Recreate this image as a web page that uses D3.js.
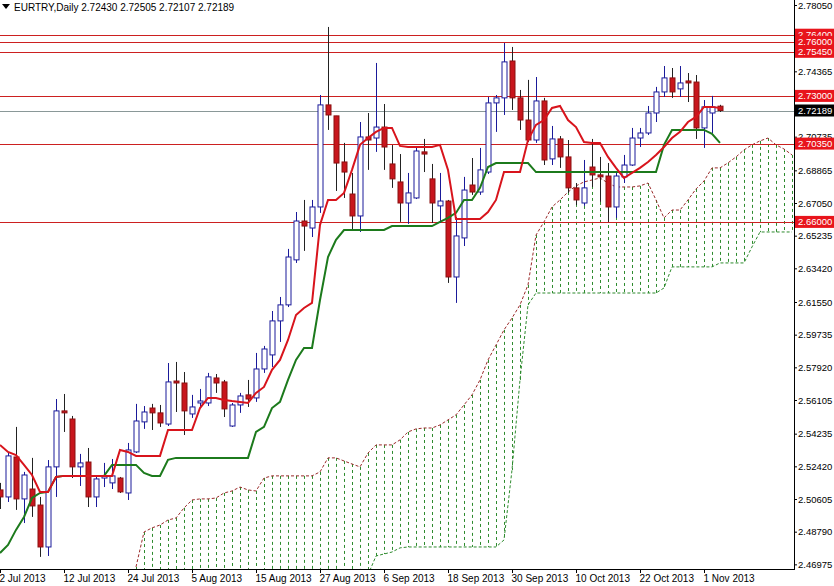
<!DOCTYPE html>
<html>
<head>
<meta charset="utf-8">
<script src="https://cdn.jsdelivr.net/npm/d3@7"></script>
<style>
  body { margin: 0; background: #fff; }
  svg { display: block; font-family: "Liberation Sans", Arial, sans-serif; }
</style>
</head>
<body>
<svg id="chart" width="834" height="586"></svg>
<script>
// EURTRY daily candles, 2 Jul 2013 .. 6 Nov 2013 (bar index 0..90)
const OPEN = [2.5111,2.5072,2.5294,2.5061,2.5116,2.5027,2.4794,2.5239,2.5550,2.5505,2.5239,2.5266,2.5072,2.5177,2.5150,2.5177,2.5094,2.5322,2.5489,2.5566,2.5539,2.5477,2.5716,2.5705,2.5533,2.5594,2.5594,2.5733,2.5711,2.5466,2.5583,2.5639,2.5622,2.5783,2.5861,2.6050,2.6139,2.6389,2.6605,2.6566,2.6683,2.7250,2.7189,2.6933,2.6755,2.6633,2.7072,2.7066,2.7127,2.6922,2.6822,2.6705,2.6733,2.6989,2.6839,2.6689,2.6716,2.6294,2.6511,2.6805,2.6766,2.6877,2.7261,2.7289,2.7494,2.7289,2.7166,2.7055,2.7272,2.6950,2.7061,2.6961,2.6789,2.6705,2.6905,2.6861,2.6855,2.6683,2.6850,2.6916,2.7066,2.7094,2.7205,2.7322,2.7400,2.7339,2.7383,2.7377,2.7122,2.7205,2.72430];
const HIGH = [2.5150,2.5316,2.5461,2.5211,2.5289,2.5072,2.5277,2.5616,2.5644,2.5522,2.5311,2.5344,2.5189,2.5261,2.5283,2.5183,2.5372,2.5589,2.5577,2.5589,2.5583,2.5816,2.5822,2.5766,2.5639,2.5672,2.5761,2.5755,2.5722,2.5594,2.5650,2.5722,2.5872,2.5911,2.6105,2.6183,2.6450,2.6655,2.6722,2.6722,2.7305,2.7683,2.7189,2.7039,2.6872,2.7155,2.7205,2.7483,2.7255,2.7027,2.6977,2.6872,2.7011,2.7061,2.6922,2.6872,2.6722,2.6627,2.6850,2.6955,2.7011,2.7294,2.7305,2.7594,2.7572,2.7333,2.7389,2.7405,2.7289,2.7133,2.7077,2.7055,2.6816,2.6944,2.7061,2.6961,2.6927,2.6872,2.6972,2.7122,2.7122,2.7244,2.7350,2.7466,2.7455,2.7466,2.7427,2.7416,2.7277,2.7300,2.72505];
const LOW = [2.5005,2.5044,2.5000,2.4927,2.4961,2.4739,2.4744,2.5072,2.5433,2.5177,2.5133,2.5016,2.5016,2.5127,2.5116,2.5094,2.5055,2.5316,2.5450,2.5444,2.5461,2.5466,2.5544,2.5416,2.5511,2.5572,2.5577,2.5650,2.5516,2.5461,2.5539,2.5572,2.5600,2.5761,2.5794,2.5933,2.6127,2.6372,2.6439,2.6516,2.6650,2.7111,2.6772,2.6733,2.6555,2.6544,2.6889,2.6989,2.6889,2.6789,2.6600,2.6589,2.6727,2.6877,2.6594,2.6594,2.6261,2.6150,2.6466,2.6750,2.6750,2.6866,2.7100,2.7194,2.7222,2.7111,2.7044,2.7039,2.6916,2.6916,2.6900,2.6761,2.6694,2.6689,2.6794,2.6711,2.6600,2.6622,2.6816,2.6911,2.7016,2.7083,2.7155,2.7294,2.7289,2.7294,2.7266,2.7061,2.7011,2.7094,2.72107];
const CLOSE = [2.5072,2.5300,2.5061,2.5194,2.5022,2.4794,2.5239,2.5550,2.5539,2.5239,2.5261,2.5072,2.5172,2.5189,2.5189,2.5100,2.5333,2.5494,2.5544,2.5539,2.5483,2.5711,2.5705,2.5550,2.5572,2.5605,2.5739,2.5705,2.5561,2.5583,2.5633,2.5616,2.5783,2.5894,2.6050,2.6139,2.6405,2.6605,2.6577,2.6683,2.7250,2.7194,2.6927,2.6877,2.6633,2.7072,2.7055,2.7127,2.7016,2.6839,2.6705,2.6761,2.6994,2.6977,2.6705,2.6716,2.6294,2.6522,2.6777,2.6766,2.6889,2.7261,2.7289,2.7489,2.7289,2.7166,2.7055,2.7272,2.6944,2.7061,2.6961,2.6789,2.6722,2.6789,2.6861,2.6850,2.6683,2.6855,2.6916,2.7066,2.7094,2.7205,2.7322,2.7400,2.7322,2.7372,2.7372,2.7122,2.7239,2.7239,2.72189];

// Ichimoku: Tenkan-sen (red) and Kijun-sen (green), bars 0..90
const TENKAN = [2.5361,2.5322,2.5305,2.5250,2.5194,2.5100,2.5100,2.5183,2.5189,2.5189,2.5189,2.5189,2.5189,2.5189,2.5189,2.5333,2.5322,2.5300,2.5300,2.5300,2.5300,2.5444,2.5444,2.5444,2.5444,2.5566,2.5622,2.5622,2.5611,2.5605,2.5600,2.5594,2.5650,2.5683,2.5778,2.5833,2.5944,2.6083,2.6122,2.6150,2.6583,2.6722,2.6722,2.6761,2.6889,2.7028,2.7066,2.7100,2.7122,2.7122,2.7022,2.7016,2.7016,2.7016,2.7016,2.7028,2.6889,2.6616,2.6616,2.6616,2.6616,2.6655,2.6722,2.6877,2.6877,2.6877,2.7055,2.7139,2.7166,2.7233,2.7244,2.7166,2.7127,2.7044,2.7039,2.7039,2.6961,2.6900,2.6844,2.6872,2.6900,2.6933,2.6972,2.7016,2.7066,2.7100,2.7155,2.7183,2.7239,2.7239,2.7233];
const KIJUN = [2.4761,2.4805,2.4889,2.4961,2.5066,2.5094,2.5100,2.5183,2.5189,2.5189,2.5189,2.5189,2.5189,2.5189,2.5250,2.5250,2.5250,2.5250,2.5205,2.5189,2.5189,2.5278,2.5289,2.5289,2.5289,2.5289,2.5289,2.5289,2.5289,2.5289,2.5289,2.5289,2.5433,2.5461,2.5566,2.5600,2.5722,2.5833,2.5900,2.5900,2.6166,2.6405,2.6500,2.6555,2.6555,2.6555,2.6555,2.6555,2.6555,2.6577,2.6577,2.6577,2.6577,2.6577,2.6577,2.6600,2.6622,2.6650,2.6722,2.6722,2.6789,2.6905,2.6927,2.6927,2.6927,2.6927,2.6927,2.6877,2.6877,2.6877,2.6877,2.6877,2.6877,2.6877,2.6877,2.6877,2.6877,2.6877,2.6877,2.6877,2.6877,2.6877,2.6877,2.7028,2.7111,2.7111,2.7111,2.7111,2.7111,2.7089,2.7039];

// Kumo (shifted forward), bars 17..99
const CLOUD_START = 17;
const SPAN_A = [2.4683,2.4877,2.4900,2.4916,2.4944,2.4955,2.5011,2.5055,2.5061,2.5061,2.5066,2.5094,2.5105,2.5127,2.5111,2.5105,2.5177,2.5189,2.5189,2.5189,2.5189,2.5189,2.5189,2.5211,2.5289,2.5289,2.5272,2.5255,2.5239,2.5316,2.5361,2.5361,2.5361,2.5389,2.5433,2.5450,2.5455,2.5455,2.5472,2.5500,2.5528,2.5583,2.5639,2.5722,2.5833,2.5916,2.6000,2.6066,2.6139,2.6250,2.6527,2.6600,2.6683,2.6722,2.6766,2.6800,2.6822,2.6833,2.6844,2.6816,2.6794,2.6794,2.6794,2.6800,2.6816,2.6722,2.6622,2.6666,2.6666,2.6722,2.6783,2.6827,2.6900,2.6900,2.6928,2.6961,2.7000,2.7028,2.7050,2.7066,2.7028,2.7005,2.6972];
const SPAN_B = [2.4500,2.4500,2.4500,2.4500,2.4500,2.4500,2.4500,2.4500,2.4500,2.4500,2.4500,2.4500,2.4500,2.4500,2.4500,2.4500,2.4500,2.4500,2.4500,2.4500,2.4500,2.4500,2.4500,2.4500,2.4500,2.4500,2.4500,2.4500,2.4500,2.4639,2.4744,2.4755,2.4766,2.4789,2.4794,2.4794,2.4794,2.4794,2.4794,2.4794,2.4794,2.4794,2.4794,2.4794,2.4794,2.4794,2.4833,2.5222,2.5722,2.6139,2.6205,2.6205,2.6205,2.6205,2.6205,2.6205,2.6205,2.6205,2.6205,2.6205,2.6205,2.6205,2.6205,2.6205,2.6205,2.6205,2.6233,2.6350,2.6350,2.6350,2.6350,2.6350,2.6350,2.6372,2.6372,2.6372,2.6372,2.6461,2.6544,2.6544,2.6544,2.6544,2.6544];

// support / resistance levels and axis labels
const LEVELS = [2.76400, 2.76000, 2.75450, 2.73000, 2.70350, 2.66000];
const LAST_PRICE = 2.72189;
const Y_TICKS = [2.78050, 2.74365, 2.70735, 2.68865, 2.67050, 2.65235, 2.63420, 2.61550, 2.59735, 2.57920, 2.56105, 2.54235, 2.52420, 2.50605, 2.48790, 2.46975];
const X_TICKS = [0, 8, 16, 24, 32, 40, 48, 56, 64, 72, 80, 88];
const X_LABELS = ["2 Jul 2013", "12 Jul 2013", "24 Jul 2013", "5 Aug 2013", "15 Aug 2013", "27 Aug 2013", "6 Sep 2013", "18 Sep 2013", "30 Sep 2013", "10 Oct 2013", "22 Oct 2013", "1 Nov 2013"];

const PLOT_W = 794, PLOT_H = 569;
const svg = d3.select("#chart");

const X = d3.scaleLinear().domain([0, 99]).range([0, 792]);
const Y = d3.scaleLinear().domain([2.78328, 2.46661]).range([0, 570]);

svg.append("clipPath").attr("id", "plot")
  .append("rect").attr("width", PLOT_W).attr("height", PLOT_H);

const g = svg.append("g").attr("clip-path", "url(#plot)");

// cloud
const cloudIdx = SPAN_A.map((d, k) => k + CLOUD_START);
g.selectAll(".kumo").data(cloudIdx).enter().append("line")
  .attr("x1", i => X(i) + 0.5).attr("x2", i => X(i) + 0.5)
  .attr("y1", i => Y(SPAN_A[i - CLOUD_START]))
  .attr("y2", i => Y(SPAN_B[i - CLOUD_START]))
  .attr("stroke", "#2e8b2e").attr("stroke-width", 1)
  .attr("stroke-dasharray", "3,3");

const spanLine = arr => d3.line()
  .x((d, k) => X(k + CLOUD_START))
  .y(d => Y(d))(arr);
g.append("path").attr("d", spanLine(SPAN_A)).attr("fill", "none")
  .attr("stroke", "#9b2a2a").attr("stroke-dasharray", "3,2");
g.append("path").attr("d", spanLine(SPAN_B)).attr("fill", "none")
  .attr("stroke", "#2e8b2e").attr("stroke-dasharray", "3,2");

// horizontal levels
g.selectAll(".lvl").data(LEVELS).enter().append("line")
  .attr("x1", 0).attr("x2", PLOT_W)
  .attr("y1", d => Math.round(Y(d)) + 0.5).attr("y2", d => Math.round(Y(d)) + 0.5)
  .attr("stroke", "#cc2020");
g.append("line").attr("x1", 0).attr("x2", PLOT_W)
  .attr("y1", Math.round(Y(LAST_PRICE)) + 0.5).attr("y2", Math.round(Y(LAST_PRICE)) + 0.5)
  .attr("stroke", "#8a9898");

// candles
const bars = d3.range(OPEN.length);
g.selectAll(".wick").data(bars).enter().append("line")
  .attr("x1", i => X(i) + 0.5).attr("x2", i => X(i) + 0.5)
  .attr("y1", i => Y(HIGH[i])).attr("y2", i => Y(LOW[i]))
  .attr("stroke", i => CLOSE[i] >= OPEN[i] ? "#1a1a9a" : "#222");
g.selectAll(".body").data(bars).enter().append("rect")
  .attr("x", i => X(i) - 2)
  .attr("y", i => Y(Math.max(OPEN[i], CLOSE[i])))
  .attr("width", 5)
  .attr("height", i => Math.max(1, Math.abs(Y(OPEN[i]) - Y(CLOSE[i]))))
  .attr("fill", i => CLOSE[i] >= OPEN[i] ? "#fff" : "#c8161d")
  .attr("stroke", i => CLOSE[i] >= OPEN[i] ? "#1a1a9a" : "#8a1010");

// tenkan / kijun
const line = d3.line().x((d, i) => X(i)).y(d => Y(d));
g.append("path").attr("d", line(KIJUN)).attr("fill", "none")
  .attr("stroke", "#1c7a1c").attr("stroke-width", 2);
g.append("path").attr("d", line(TENKAN)).attr("fill", "none")
  .attr("stroke", "#d8141c").attr("stroke-width", 2);

// axes
const yAxis = svg.append("g").attr("transform", "translate(" + PLOT_W + ",0)")
  .call(d3.axisRight(Y).tickValues(Y_TICKS).tickFormat(d3.format(".5f")).tickSize(3).tickPadding(1).tickSizeOuter(0))
  .attr("font-size", "9.5px");
yAxis.select(".domain").remove();
svg.append("line").attr("x1", PLOT_W + 0.5).attr("x2", PLOT_W + 0.5)
  .attr("y1", 0).attr("y2", PLOT_H).attr("stroke", "#000");
svg.append("line").attr("x1", 0).attr("x2", PLOT_W + 1)
  .attr("y1", PLOT_H + 0.5).attr("y2", PLOT_H + 0.5).attr("stroke", "#000");

const xAxis = svg.append("g").attr("transform", "translate(0," + PLOT_H + ")")
  .call(d3.axisBottom(X).tickValues(X_TICKS).tickFormat((d, k) => X_LABELS[k]).tickSize(4).tickSizeOuter(0))
  .attr("font-size", "10px");
xAxis.select(".domain").remove();
xAxis.selectAll("text").attr("text-anchor", "start").attr("dx", "-1").attr("dy", "0.6em");

// highlighted price labels
const tags = LEVELS.map(v => ({v: v, bg: "#e8141c"})).concat([{v: LAST_PRICE, bg: "#000"}]);
const tag = svg.selectAll(".tag").data(tags).enter().append("g")
  .attr("transform", d => "translate(" + (PLOT_W + 1) + "," + Y(d.v) + ")");
tag.append("rect").attr("x", 0).attr("y", -6).attr("width", 39).attr("height", 12)
  .attr("fill", d => d.bg);
tag.append("text").attr("x", 3).attr("y", 3.5).attr("fill", "#fff")
  .attr("font-size", "9.5px").text(d => d.v.toFixed(5));

// header
svg.append("path").attr("d", "M2,4 L10,4 L6,9 Z").attr("fill", "#000");
svg.append("text").attr("x", 14).attr("y", 11).attr("font-size", "10px")
  .text("EURTRY,Daily  2.72430 2.72505 2.72107 2.72189");
</script>
</body>
</html>
